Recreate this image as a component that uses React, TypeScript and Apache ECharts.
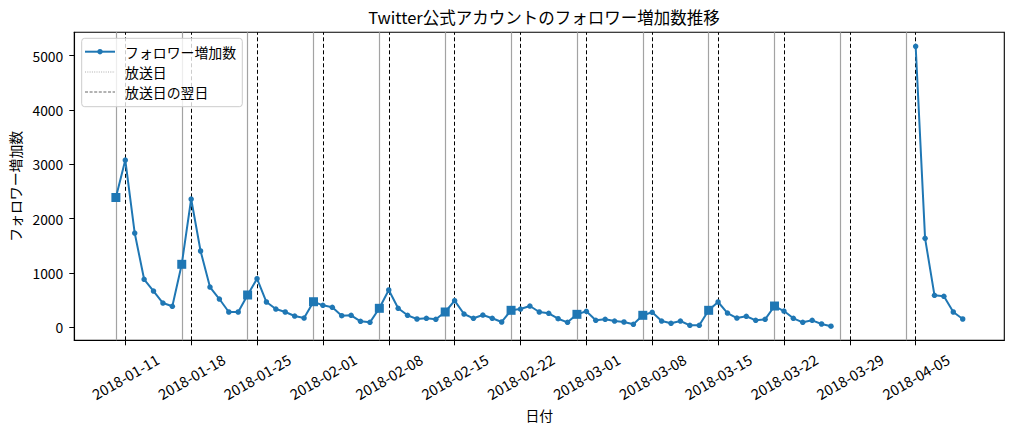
import React, { useEffect, useRef } from "react";
import * as echarts from "echarts";

const FONT = "'Noto Sans CJK JP', 'Noto Sans', sans-serif";

const dates: string[] = [
  "2018-01-10", "2018-01-11", "2018-01-12", "2018-01-13", "2018-01-14", "2018-01-15", "2018-01-16",
  "2018-01-17", "2018-01-18", "2018-01-19", "2018-01-20", "2018-01-21", "2018-01-22", "2018-01-23",
  "2018-01-24", "2018-01-25", "2018-01-26", "2018-01-27", "2018-01-28", "2018-01-29", "2018-01-30",
  "2018-01-31", "2018-02-01", "2018-02-02", "2018-02-03", "2018-02-04", "2018-02-05", "2018-02-06",
  "2018-02-07", "2018-02-08", "2018-02-09", "2018-02-10", "2018-02-11", "2018-02-12", "2018-02-13",
  "2018-02-14", "2018-02-15", "2018-02-16", "2018-02-17", "2018-02-18", "2018-02-19", "2018-02-20",
  "2018-02-21", "2018-02-22", "2018-02-23", "2018-02-24", "2018-02-25", "2018-02-26", "2018-02-27",
  "2018-02-28", "2018-03-01", "2018-03-02", "2018-03-03", "2018-03-04", "2018-03-05", "2018-03-06",
  "2018-03-07", "2018-03-08", "2018-03-09", "2018-03-10", "2018-03-11", "2018-03-12", "2018-03-13",
  "2018-03-14", "2018-03-15", "2018-03-16", "2018-03-17", "2018-03-18", "2018-03-19", "2018-03-20",
  "2018-03-21", "2018-03-22", "2018-03-23", "2018-03-24", "2018-03-25", "2018-03-26", "2018-03-27",
  "2018-03-28",
  "2018-04-05", "2018-04-06", "2018-04-07", "2018-04-08", "2018-04-09", "2018-04-10",
];

// null = no data (breaks the line)
const followerGain: (number | null)[] = [
  2390, 3080, 1736, 884, 668, 447, 387,
  1160, 2362, 1405, 742, 521, 282, 282,
  595, 895, 466, 337, 282, 208, 171,
  471, 405, 368, 214, 221, 110, 92,
  350, 687, 350, 221, 153, 166, 147,
  282, 490, 245, 166, 226, 166, 98,
  313, 337, 392, 282, 258, 158, 92,
  239, 295, 129, 147, 116, 98, 55,
  221, 276, 116, 74, 116, 37, 37,
  313, 466, 263, 171, 203, 129, 147,
  392, 300, 166, 92, 129, 61, 20,
  null,
  5173, 1638, 589, 571, 282, 153,
];

const broadcastDays: string[] = [
  "2018-01-10", "2018-01-17", "2018-01-24", "2018-01-31", "2018-02-07", "2018-02-14", "2018-02-21",
  "2018-02-28", "2018-03-07", "2018-03-14", "2018-03-21", "2018-03-28", "2018-04-04",
];

const nextDays: string[] = [
  "2018-01-11", "2018-01-18", "2018-01-25", "2018-02-01", "2018-02-08", "2018-02-15", "2018-02-22",
  "2018-03-01", "2018-03-08", "2018-03-15", "2018-03-22", "2018-03-29", "2018-04-05",
];

const tickDates: string[] = [
  "2018-01-11", "2018-01-18", "2018-01-25", "2018-02-01", "2018-02-08", "2018-02-15", "2018-02-22",
  "2018-03-01", "2018-03-08", "2018-03-15", "2018-03-22", "2018-03-29", "2018-04-05",
];

const yTicks: number[] = [0, 1000, 2000, 3000, 4000, 5000];

const BASE = Date.UTC(2018, 0, 11);
function dayIdx(s: string): number {
  const [y, m, d] = s.split("-").map(Number);
  return Math.round((Date.UTC(y, m - 1, d) - BASE) / 86400000);
}
function idxToDate(v: number): string {
  const dt = new Date(BASE + Math.round(v) * 86400000);
  const mm = String(dt.getUTCMonth() + 1).padStart(2, "0");
  const dd = String(dt.getUTCDate()).padStart(2, "0");
  return `${dt.getUTCFullYear()}-${mm}-${dd}`;
}

export default function App() {
  const ref = useRef<HTMLDivElement>(null);
  useEffect(() => {
    if (!ref.current) return;
    const chart = echarts.init(ref.current, undefined, { renderer: "svg" });
    const blue = "#1f77b4";
    const fs = 13.9;
    const tickVals = tickDates.map(dayIdx);

    const mainData = dates.map((d, i) => {
      const v = followerGain[i];
      const isB = broadcastDays.includes(d);
      return {
        value: [dayIdx(d), v === null ? "-" : v],
        symbol: isB ? "rect" : "circle",
        symbolSize: isB ? 9 : 5.5,
      };
    });

    const lineMarks = [
      ...broadcastDays.map((d) => ({
        xAxis: dayIdx(d),
        lineStyle: { color: "#a3a3a3", width: 1.2, type: "solid" },
      })),
      ...nextDays.map((d) => ({
        xAxis: dayIdx(d),
        lineStyle: { color: "#000", width: 1, type: [4, 2.5] },
      })),
    ];

    const lx = 85, lx2 = 115, tx = 125;
    const ly = [51.7, 72, 92];

    chart.setOption({
      animation: false,
      textStyle: { fontFamily: FONT },
      title: {
        text: "Twitter公式アカウントのフォロワー増加数推移",
        left: 539,
        textAlign: "center",
        top: 4,
        textStyle: { fontSize: 16.5, fontWeight: "normal", color: "#000", fontFamily: FONT },
      },
      grid: {
        left: 74.3,
        top: 32.3,
        width: 930,
        height: 308,
        show: true,
        borderColor: "#000",
        borderWidth: 1.1,
        containLabel: false,
        outerBoundsMode: "none",
      },
      xAxis: {
        type: "value",
        min: -5.42,
        max: 93.42,
        splitLine: { show: false },
        axisLine: { show: true, onZero: false, lineStyle: { color: "#000", width: 1.1 } },
        axisTick: { show: true, customValues: tickVals, length: 5, lineStyle: { color: "#000", width: 1 } },
        axisLabel: {
          customValues: tickVals,
          formatter: (v: number) => idxToDate(v),
          rotate: 30,
          align: "center",
          verticalAlign: "middle",
          margin: 36,
          fontSize: 14.5,
          color: "#000",
          fontFamily: FONT,
        },
        name: "日付",
        nameLocation: "middle",
        nameGap: 64,
        nameTextStyle: { fontSize: fs, color: "#000", fontFamily: FONT },
      },
      yAxis: {
        type: "value",
        min: -239,
        max: 5431,
        splitLine: { show: false },
        axisLine: { show: true, onZero: false, lineStyle: { color: "#000", width: 1.1 } },
        axisTick: { show: true, customValues: yTicks, length: 5, lineStyle: { color: "#000", width: 1 } },
        axisLabel: {
          customValues: yTicks,
          formatter: (v: number) => String(v),
          margin: 11,
          fontSize: fs,
          color: "#000",
          fontFamily: FONT,
        },
        name: "フォロワー増加数",
        nameLocation: "middle",
        nameRotate: 90,
        nameGap: 50,
        nameTextStyle: { fontSize: fs, color: "#000", fontFamily: FONT },
      },
      series: [
        {
          type: "line",
          name: "marks",
          data: [],
          silent: true,
          z: 1,
          markLine: {
            silent: true,
            z: 1,
            symbol: ["none", "none"],
            label: { show: false },
            emphasis: { disabled: true },
            animation: false,
            data: lineMarks,
          },
        },
        {
          type: "line",
          name: "フォロワー増加数",
          data: mainData,
          connectNulls: false,
          z: 3,
          showAllSymbol: true,
          lineStyle: { color: blue, width: 2 },
          itemStyle: { color: blue, borderWidth: 0 },
          emphasis: { disabled: true },
        },
      ],
      graphic: [
        {
          type: "rect",
          shape: { x: 81.7, y: 38.3, width: 160.6, height: 68.4, r: 3 },
          style: { fill: "rgba(255,255,255,0.8)", stroke: "#cccccc", lineWidth: 1 },
          z: 10,
        },
        {
          type: "line",
          shape: { x1: lx, y1: ly[0], x2: lx2, y2: ly[0] },
          style: { stroke: blue, lineWidth: 2 },
          z: 11,
        },
        {
          type: "circle",
          shape: { cx: (lx + lx2) / 2, cy: ly[0], r: 2.7 },
          style: { fill: blue },
          z: 11,
        },
        {
          type: "line",
          shape: { x1: lx, y1: ly[1], x2: lx2, y2: ly[1] },
          style: { stroke: "#9a9a9a", lineWidth: 0.8, lineDash: [1, 1.3] },
          z: 11,
        },
        {
          type: "line",
          shape: { x1: lx, y1: ly[2], x2: lx2, y2: ly[2] },
          style: { stroke: "#555", lineWidth: 0.9, lineDash: [3, 1.6] },
          z: 11,
        },
        ...["フォロワー増加数", "放送日", "放送日の翌日"].map((t, i) => ({
          type: "text",
          x: tx,
          y: ly[i],
          style: { text: t, fontSize: fs, fill: "#000", fontFamily: FONT, verticalAlign: "middle", align: "left" },
          z: 11,
        })),
      ],
    });
    return () => chart.dispose();
  }, []);
  return <div ref={ref} style={{ position: "absolute", left: 0, top: 0, width: 1013, height: 432 }} />;
}
